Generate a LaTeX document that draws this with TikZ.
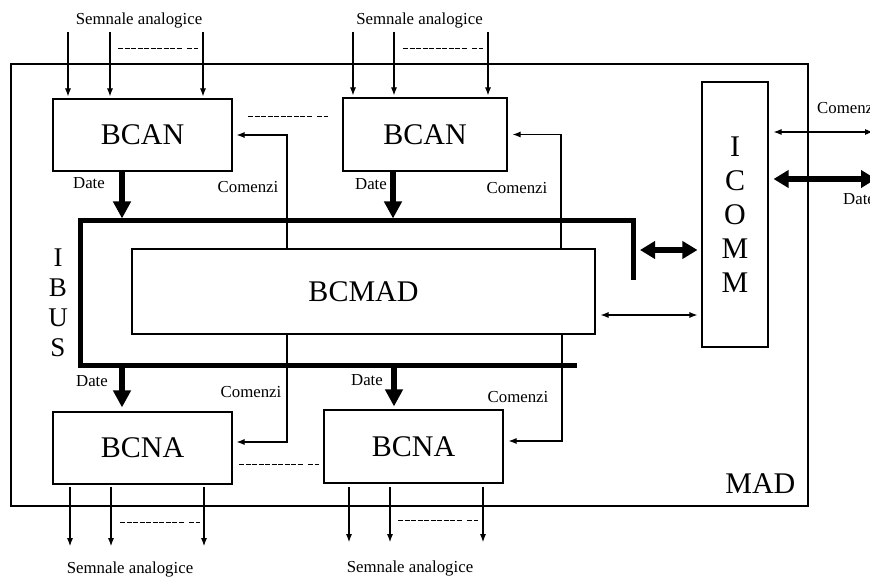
\documentclass[tikz,border=0pt]{standalone}
\usepackage{fontspec}
\setmainfont{Liberation Serif}
\usetikzlibrary{positioning, arrows.meta}

\begin{document}
\begin{tikzpicture}[x=1pt, y=-1pt,
      block/.style={draw, line width=1.1pt, inner sep=0pt, font=\fontsize{30}{34}\selectfont},
      lbl/.style={inner sep=1pt, font=\fontsize{16.8}{18}\selectfont},
      sig/.style={-{Latex[length=8pt, width=6pt]}, line width=1.1pt},
      sigboth/.style={{Latex[length=8pt, width=6pt]}-{Latex[length=8pt, width=6pt]}, line width=1.1pt},
      fat/.style={-{Triangle[length=17pt, width=17pt]}, line width=5.5pt},
      fatboth/.style={{Triangle[length=15pt, width=17pt]}-{Triangle[length=15pt, width=17pt]}, line width=5.5pt},
      bus/.style={line width=5pt, line join=miter},
      gap/.style={line width=0.9pt, dash pattern=on 5pt off 1.5pt}]
  \useasboundingbox (0,0) rectangle (870,577);
  \node[block, minimum width=797pt, minimum height=442pt] (mad) at (409.5,285) {};
  \node[anchor=south east, inner sep=0pt, font=\fontsize{30}{34}\selectfont] (madlbl) at ([xshift=-13pt, yshift=13pt]mad.south east) {MAD};

  \node[block, minimum width=179pt, minimum height=72pt] (bcan1) at (142.5,135) {BCAN};
  \node[block, minimum width=164pt, minimum height=73pt] (bcan2) at (425,134.5) {BCAN};
  \node[block, minimum width=179pt, minimum height=72pt] (bcna1) at (142.5,448) {BCNA};
  \node[block, minimum width=179pt, minimum height=73pt] (bcna2) at (413.5,446.5) {BCNA};
  \node[block, minimum width=463pt, minimum height=85pt] (bcmad) at (363.5,291.5) {BCMAD};
  \node[block, minimum width=66pt, minimum height=265pt, align=center] (icomm) at (735,214.5) {I\\C\\O\\M\\M};
  \node[align=center, inner sep=0pt, font=\fontsize{27}{30}\selectfont] (ibus) at (58,303) {I\\B\\U\\S};

  \node[lbl] (sa1) at (139,20) {Semnale analogice};
  \node[lbl] (sa2) at (419.5,20) {Semnale analogice};
  \node[lbl] (sb1) at (130,569) {Semnale analogice};
  \node[lbl] (sb2) at (410,568) {Semnale analogice};
  \node[lbl] (d1) at (89,183) {Date};
  \node[lbl] (d2) at (371,184) {Date};
  \node[lbl] (d3) at (92,381) {Date};
  \node[lbl] (d4) at (367,380) {Date};
  \node[lbl] (c1) at (248,187) {Comenzi};
  \node[lbl] (c2) at (517,188) {Comenzi};
  \node[lbl] (c3) at (251,392) {Comenzi};
  \node[lbl] (c4) at (518,397) {Comenzi};
  \node[lbl, anchor=west] (c5) at (816,108) {Comenzi};
  \node[lbl, anchor=west] (d5) at (842,199) {Date};

  \foreach \x in {68,110,203} \draw[sig, shorten <=3pt, shorten >=2pt] (sa1.south -| \x,0) -- (bcan1.north -| \x,0);
  \foreach \x in {353,394,488} \draw[sig, shorten <=3pt, shorten >=2pt] (sa2.south -| \x,0) -- (bcan2.north -| \x,0);
  \foreach \x in {70,111,204} \draw[sig, shorten <=2pt, shorten >=14pt] (bcna1.south -| \x,0) -- (sb1.north -| \x,0);
  \foreach \x in {349,390,483} \draw[sig, shorten <=3pt, shorten >=17pt] (bcna2.south -| \x,0) -- (sb2.north -| \x,0);
  \foreach \x/\y in {118/48, 403/48, 248/116, 239/464, 120/522, 398/520}
    \draw[gap] (\x,\y) -- ++(64,0) ++(5,0) -- ++(11,0);

  \coordinate (b1) at (633,280);
  \coordinate (b2) at (633,221);
  \coordinate (b3) at (80,221);
  \coordinate (b4) at (80,365);
  \coordinate (b5) at (577,365);
  \draw[bus] (b1) -- (b2) -- (b3) -- (b4) -- (b5);

  \draw[fat, shorten >=2.5pt] (bcan1.south -| 122,0) -- (b3 -| 122,0);
  \draw[fat, shorten >=2.5pt] (bcan2.south -| 393,0) -- (b3 -| 393,0);
  \draw[fat, shorten >=4pt] (b4 -| 122,0) -- (bcna1.north -| 122,0);
  \draw[fat, shorten >=3pt] (b4 -| 394,0) -- (bcna2.north -| 394,0);

  \draw[sig, shorten >=4pt] (bcmad.north -| 287,0) |- (bcan1.east);
  \draw[sig, shorten >=5pt] (bcmad.north -| 561,0) |- (bcan2.east);
  \draw[sig, shorten >=4pt] (bcmad.south -| 287,0) |- ([yshift=6pt]bcna1.east);
  \draw[sig, shorten >=5pt] (bcmad.south -| 562,0) |- ([yshift=5.5pt]bcna2.east);

  \draw[fatboth, shorten <=7pt, shorten >=4pt] (b2 |- 0,250) -- (icomm.west |- 0,250);
  \draw[sigboth, shorten <=5pt, shorten >=4pt] (bcmad.east |- 0,315) -- (icomm.west |- 0,315);
  \coordinate (extc) at (873,132);
  \coordinate (extd) at (876,179);
  \draw[sigboth, shorten <=5pt] (icomm.east |- extc) -- (extc);
  \draw[fatboth, shorten <=5pt] (icomm.east |- extd) -- (extd);
\end{tikzpicture}
\end{document}
